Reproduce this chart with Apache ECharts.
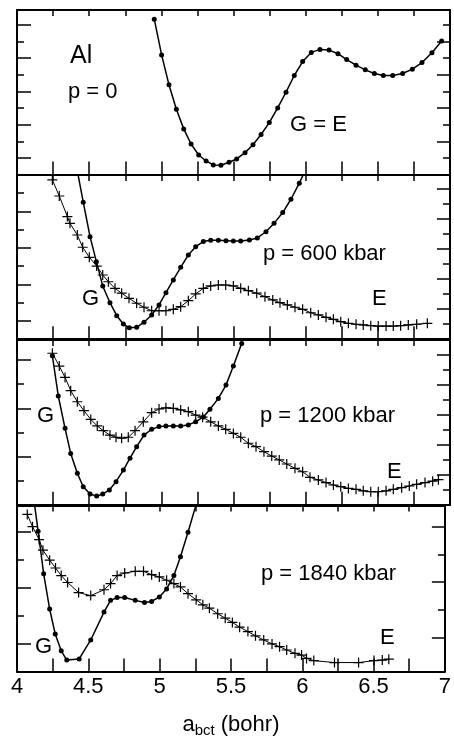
<!DOCTYPE html>
<html>
<head>
<meta charset="utf-8">
<script src="https://cdn.jsdelivr.net/npm/echarts@6/dist/echarts.min.js"></script>
<style>
  html, body { margin: 0; padding: 0; background: #fff; }
  #chart { width: 454px; height: 740px; }
</style>
</head>
<body>
<div id="chart"></div>
<script>
// a_bct (bohr) against energy, y in tick units of each panel

// p = 0 : G = E
const p0G = [[4.951,9.35],[5.002,7.20],[5.053,5.40],[5.104,3.93],[5.155,2.75],[5.206,1.84],[5.259,1.18],[5.310,0.82],[5.360,0.58],[5.413,0.56],[5.469,0.74],[5.522,0.94],[5.580,1.32],[5.635,1.80],[5.691,2.41],[5.748,3.13],[5.806,4.01],[5.864,4.96],[5.921,5.96],[5.979,6.80],[6.039,7.35],[6.099,7.53],[6.162,7.49],[6.224,7.27],[6.284,6.92],[6.349,6.58],[6.413,6.30],[6.476,6.08],[6.538,5.96],[6.603,5.96],[6.672,6.08],[6.739,6.34],[6.806,6.74],[6.875,7.33],[6.942,8.03]];

// p = 600 kbar
const p600G = [[4.414,9.39],[4.459,7.51],[4.506,5.62],[4.550,4.25],[4.594,2.92],[4.644,2.00],[4.691,1.29],[4.737,0.83],[4.778,0.63],[4.829,0.65],[4.880,0.93],[4.933,1.33],[4.984,1.88],[5.032,2.55],[5.083,3.25],[5.134,3.94],[5.187,4.62],[5.238,5.07],[5.291,5.35],[5.342,5.42],[5.395,5.42],[5.448,5.40],[5.499,5.38],[5.550,5.38],[5.610,5.44],[5.665,5.55],[5.725,5.89],[5.781,6.35],[5.841,6.94],[5.898,7.67],[5.956,8.55],[6.014,9.55]];
const p600E = [[4.245,8.73],[4.293,7.85],[4.349,6.72],[4.367,6.35],[4.418,5.71],[4.455,5.04],[4.501,4.49],[4.552,4.01],[4.594,3.52],[4.633,3.15],[4.679,2.79],[4.725,2.52],[4.776,2.24],[4.829,1.97],[4.880,1.75],[4.933,1.56],[4.984,1.56],[5.032,1.56],[5.083,1.64],[5.134,1.78],[5.187,2.11],[5.238,2.48],[5.291,2.79],[5.342,2.92],[5.395,2.97],[5.446,2.97],[5.499,2.92],[5.550,2.79],[5.603,2.66],[5.661,2.52],[5.718,2.33],[5.772,2.15],[5.822,2.00],[5.873,1.88],[5.926,1.75],[5.979,1.64],[6.035,1.45],[6.088,1.33],[6.141,1.20],[6.192,1.09],[6.243,0.96],[6.296,0.87],[6.349,0.82],[6.399,0.78],[6.451,0.74],[6.503,0.72],[6.557,0.72],[6.607,0.72],[6.658,0.74],[6.711,0.78],[6.769,0.82],[6.843,0.87]];

// p = 1200 kbar
const p1200G = [[4.245,6.18],[4.286,4.51],[4.333,3.17],[4.372,2.13],[4.418,1.31],[4.459,0.75],[4.506,0.45],[4.552,0.36],[4.594,0.45],[4.640,0.61],[4.686,0.96],[4.737,1.44],[4.783,1.93],[4.829,2.41],[4.880,2.89],[4.933,3.13],[4.984,3.24],[5.032,3.27],[5.083,3.27],[5.134,3.27],[5.187,3.31],[5.238,3.44],[5.291,3.64],[5.337,3.96],[5.395,4.41],[5.448,4.96],[5.499,5.75],[5.557,6.69]];
const p1200E = [[4.245,6.28],[4.293,5.75],[4.333,5.28],[4.372,4.73],[4.418,4.27],[4.464,3.90],[4.511,3.54],[4.556,3.27],[4.598,3.07],[4.644,2.89],[4.686,2.80],[4.725,2.76],[4.771,2.80],[4.818,3.07],[4.875,3.44],[4.933,3.82],[4.984,3.97],[5.032,4.02],[5.083,4.00],[5.134,3.93],[5.187,3.86],[5.238,3.72],[5.286,3.63],[5.342,3.44],[5.395,3.27],[5.446,3.13],[5.499,2.96],[5.550,2.80],[5.603,2.55],[5.656,2.41],[5.711,2.20],[5.765,2.02],[5.817,1.86],[5.869,1.69],[5.926,1.51],[5.979,1.37],[6.030,1.14],[6.088,1.03],[6.141,0.92],[6.192,0.82],[6.243,0.75],[6.296,0.68],[6.349,0.64],[6.399,0.58],[6.451,0.54],[6.503,0.54],[6.557,0.58],[6.607,0.64],[6.665,0.71],[6.718,0.78],[6.769,0.85],[6.827,0.92],[6.880,0.98],[6.920,1.04]];

// p = 1840 kbar
const p1840G = [[4.108,6.56],[4.148,5.03],[4.187,3.50],[4.229,2.24],[4.268,1.34],[4.310,0.74],[4.349,0.41],[4.436,0.45],[4.517,1.13],[4.610,2.13],[4.656,2.55],[4.702,2.65],[4.755,2.65],[4.829,2.55],[4.894,2.47],[4.944,2.51],[4.998,2.67],[5.049,2.96],[5.100,3.44],[5.146,4.11],[5.199,4.99],[5.256,5.99],[5.300,6.90]];
const p1840E = [[4.072,5.63],[4.109,5.19],[4.155,4.73],[4.182,4.35],[4.229,3.99],[4.270,3.71],[4.310,3.44],[4.355,3.19],[4.432,2.83],[4.517,2.72],[4.610,2.93],[4.656,3.15],[4.702,3.44],[4.755,3.53],[4.829,3.59],[4.887,3.59],[4.944,3.47],[4.998,3.39],[5.049,3.27],[5.100,3.15],[5.146,3.03],[5.199,2.79],[5.256,2.57],[5.303,2.39],[5.349,2.27],[5.407,2.07],[5.460,1.91],[5.510,1.76],[5.561,1.59],[5.619,1.43],[5.672,1.28],[5.730,1.13],[5.788,0.99],[5.841,0.89],[5.891,0.77],[5.949,0.65],[5.995,0.59],[6.030,0.47],[6.081,0.39],[6.226,0.32],[6.395,0.32],[6.503,0.39],[6.561,0.41],[6.607,0.44]];

// tick labels and tick marks of the shared x axis
const xTicks = [4, 4.5, 5, 5.5, 6, 6.5, 7];
const xTickMarks = [4.25, 4.5, 4.75, 5, 5.25, 5.5, 5.75, 6, 6.25, 6.5, 6.75];

// y tick positions per panel (left long / left short / right long / right short)
const yLeftLong   = [[1,3,5,7,9], [1,3,5,7], [2,4,6], [1,3,5]];
const yLeftShort  = [[2,4,6,8],   [2,4,6,8], [1,3,5], [2,4]];
const yRightLong  = [[2,4,6,8],   [2,4,6,8,10], [2,4,6,8,10], [1.2,3.2,5.2]];
const yRightShort = [[1,3,5,7,9], [1,3,5,7,9], [1,3,5,7,9], [2.2,4.2]];
const yLeftMax  = [9.9, 9.0, 6.83, 5.95];
const yRightMax = [9.9, 10.95, 10.99, 5.95];

const panelLabels = [
  ['Al', 70, 56, 25], ['p = 0', 68, 92, 22], ['G = E', 290, 125, 22],
  ['p = 600 kbar', 263, 254, 22], ['G', 82, 299, 22], ['E', 372, 299, 22],
  ['G', 37, 416, 22], ['p = 1200 kbar', 260, 416, 22], ['E', 387, 472, 22],
  ['p = 1840 kbar', 261, 574, 22], ['G', 35, 647, 22], ['E', 380, 638, 22]
];

const FONT = '"Liberation Sans", Arial, Helvetica, sans-serif';
const gridTops = [10, 175, 340, 505.5];
const gridHeights = [164.6, 164.2, 164.8, 166];
const plus = 'path://M4.4,0H5.6V4.4H10V5.6H5.6V10H4.4V5.6H0V4.4H4.4Z';

const chart = echarts.init(document.getElementById('chart'));

const grids = [];
const xAxes = [];
const yAxes = [];
const series = [];

gridTops.forEach((top, i) => {
  grids.push({ left: 17, right: 4, top: top, height: gridHeights[i] });

  ['bottom', 'top'].forEach(pos => {
    const isLabelled = (i === 3 && pos === 'bottom');
    xAxes.push({
      gridIndex: i, type: 'value', position: pos, min: 4, max: 7, interval: 0.25,
      axisLine: { show: true, onZero: false, lineStyle: { color: '#000', width: 2 } },
      axisTick: {
        show: true, inside: true, length: pos === 'bottom' ? 13 : 6,
        customValues: xTickMarks, lineStyle: { color: '#000', width: 1.5 }
      },
      splitLine: { show: false },
      axisLabel: {
        show: isLabelled, margin: 4, color: '#000', fontSize: 22, fontFamily: FONT,
        customValues: xTicks,
        formatter: v => String(v)
      },
      name: isLabelled ? '{a|a}{s|bct}{a| (bohr)}' : '',
      nameLocation: 'middle', nameGap: 40,
      nameTextStyle: {
        rich: {
          a: { fontSize: 22, fontFamily: FONT, color: '#000' },
          s: { fontSize: 15, fontFamily: FONT, color: '#000', verticalAlign: 'bottom', padding: [12, 0, 0, 0] }
        }
      }
    });
  });

  const yBase = (pos, max, ticks, len, line) => ({
    gridIndex: i, type: 'value', position: pos, min: 0, max: max,
    axisLine: { show: line, onZero: false, lineStyle: { color: '#000', width: 2 } },
    axisTick: { show: true, inside: true, length: len, customValues: ticks, lineStyle: { color: '#000', width: 1.5 } },
    axisLabel: { show: false },
    splitLine: { show: false }
  });
  yAxes.push(yBase('left', yLeftMax[i], yLeftLong[i], 14, true));
  yAxes.push(yBase('left', yLeftMax[i], yLeftShort[i], 7, false));
  yAxes.push(yBase('right', yRightMax[i], yRightLong[i], 13, true));
  yAxes.push(yBase('right', yRightMax[i], yRightShort[i], 7, false));
});

const lineSeries = (data, grid, symbol, size, width) => ({
  type: 'line', data: data, xAxisIndex: grid * 2, yAxisIndex: grid * 4,
  symbol: symbol, symbolSize: size, showSymbol: true, clip: true,
  lineStyle: { color: '#000', width: width },
  itemStyle: { color: '#000', borderWidth: 0 },
  animation: false, silent: true
});

series.push(lineSeries(p0G, 0, 'circle', 5, 1.5));
series.push(lineSeries(p600G, 1, 'circle', 5, 1.5));
series.push(lineSeries(p600E, 1, plus, 10, 1));
series.push(lineSeries(p1200G, 2, 'circle', 5, 1.5));
series.push(lineSeries(p1200E, 2, plus, 10, 1));
series.push(lineSeries(p1840G, 3, 'circle', 5, 1.5));
series.push(lineSeries(p1840E, 3, plus, 10, 1));

const graphics = panelLabels.map(([t, x, y, fs]) => ({
  type: 'text', x: x, y: y, z: 10,
  style: { text: t, fill: '#000', fontSize: fs, fontFamily: FONT, verticalAlign: 'middle', align: 'left' }
}));

chart.setOption({
  backgroundColor: '#fff',
  animation: false,
  grid: grids,
  xAxis: xAxes,
  yAxis: yAxes,
  series: series,
  graphic: graphics
});
</script>
</body>
</html>
